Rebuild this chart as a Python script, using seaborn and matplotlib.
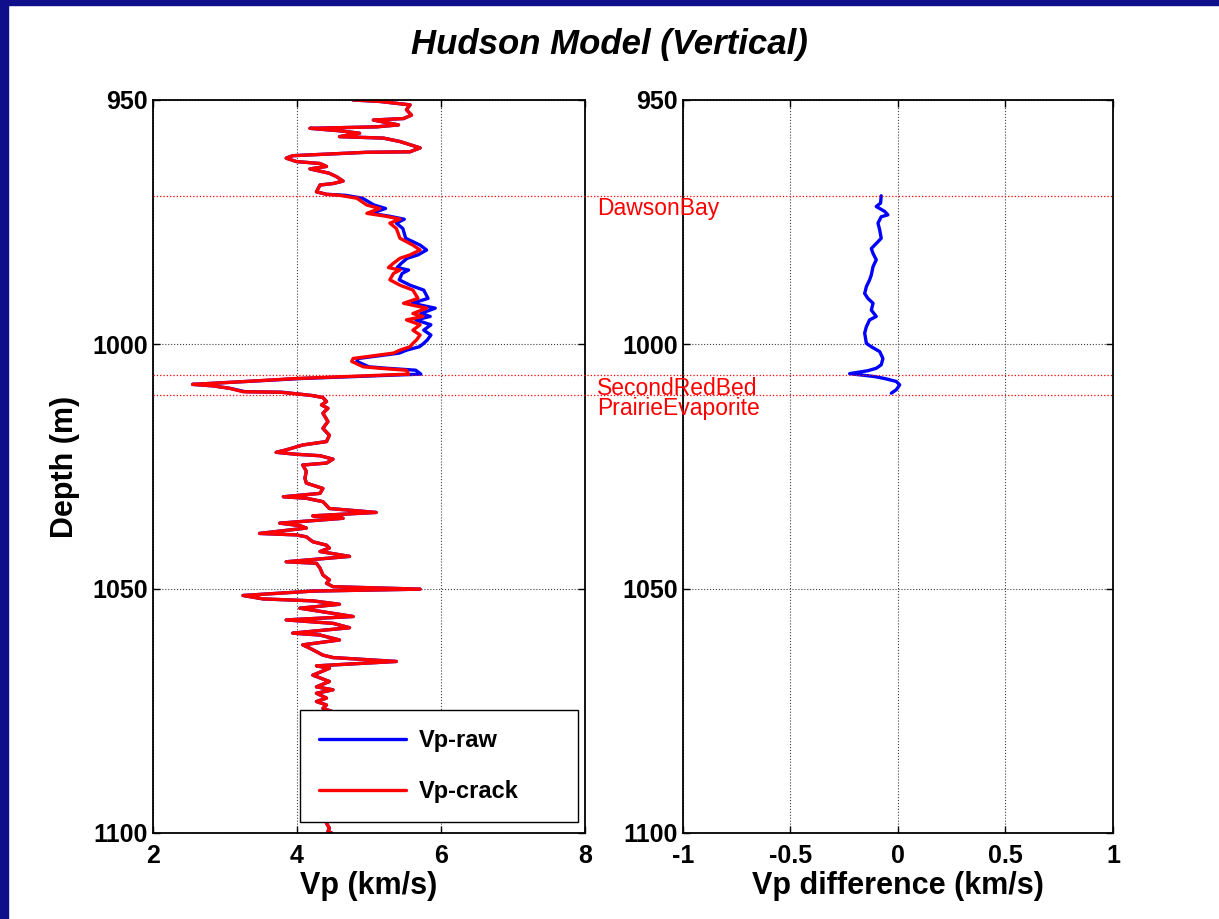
import matplotlib
matplotlib.use('Agg')
import matplotlib.pyplot as plt
from matplotlib import transforms
from matplotlib.lines import Line2D
from matplotlib.patches import Rectangle
import pandas as pd
import seaborn as sns

# Vp-crack log (km/s) against depth (m)
depth = [950.0, 950.3, 951.0, 952.0, 953.1, 953.8, 954.1, 955.1, 955.5, 955.8,
         956.3, 956.8, 957.5, 957.8, 958.5, 959.8, 960.6, 960.7, 961.4, 961.9,
         962.6, 963.0, 963.6, 964.1, 965.0, 965.7, 966.6, 967.1, 967.4, 968.8,
         969.3, 969.5, 970.1, 971.5, 972.2, 973.2, 973.8, 974.4, 975.2, 976.3,
         978.3, 979.7, 980.7, 981.7, 982.4, 983.4, 984.3, 984.8, 985.5, 986.8,
         987.9, 988.9, 990.6, 991.6, 992.6, 993.7, 994.3, 995.0, 996.0, 997.1,
         998.1, 999.1, 999.8, 1000.5, 1001.2, 1001.8, 1002.9, 1003.5, 1004.6, 1004.9,
         1005.3, 1006.1, 1006.6, 1007.0, 1007.6, 1008.2, 1008.5, 1009.0, 1009.7, 1009.8,
         1010.2, 1010.5, 1010.9, 1011.7, 1012.4, 1013.1, 1014.1, 1015.8, 1017.2, 1018.6,
         1019.9, 1020.6, 1021.6, 1022.1, 1022.5, 1022.8, 1023.5, 1024.3, 1024.7, 1026.0,
         1027.4, 1028.4, 1029.5, 1030.5, 1031.2, 1031.5, 1032.2, 1033.6, 1034.4, 1035.1,
         1035.3, 1035.6, 1036.6, 1037.1, 1037.6, 1038.7, 1039.0, 1039.4, 1040.4, 1041.1,
         1041.7, 1042.4, 1043.4, 1044.5, 1044.8, 1045.8, 1047.2, 1048.2, 1048.9, 1049.6,
         1050.1, 1050.5, 1051.4, 1052.1, 1052.5, 1053.2, 1054.0, 1055.7, 1056.4, 1057.1,
         1058.0, 1059.1, 1059.5, 1060.5, 1061.5, 1062.2, 1063.6, 1064.1, 1064.9, 1065.8,
         1066.3, 1067.7, 1069.0, 1070.1, 1070.7, 1071.4, 1072.4, 1073.1, 1073.8, 1074.5,
         1075.2, 1077.0, 1079.0, 1081.0, 1083.0, 1085.0, 1087.0, 1089.0, 1091.0, 1093.0,
         1095.0, 1097.0, 1098.0, 1099.0, 1099.7, 1100.0]
vp_crack = [4.78, 5.15, 5.57, 5.52, 5.59, 5.48, 5.06, 5.41, 5.10, 4.18,
            4.59, 4.87, 4.59, 5.20, 5.43, 5.71, 5.57, 4.97, 3.94, 3.85,
            3.99, 4.32, 4.41, 4.18, 4.45, 4.55, 4.64, 4.50, 4.32, 4.27,
            4.41, 4.59, 4.83, 4.97, 5.15, 4.97, 5.24, 5.43, 5.29, 5.38,
            5.43, 5.61, 5.71, 5.57, 5.43, 5.34, 5.27, 5.43, 5.34, 5.29,
            5.43, 5.61, 5.68, 5.48, 5.80, 5.61, 5.75, 5.52, 5.71, 5.61,
            5.71, 5.66, 5.61, 5.57, 5.43, 5.34, 4.78, 4.76, 4.92, 5.15,
            5.52, 5.55, 4.69, 3.99, 3.29, 2.55, 2.83, 3.06, 3.25, 3.76,
            4.04, 4.22, 4.36, 4.41, 4.34, 4.43, 4.36, 4.43, 4.36, 4.45,
            4.41, 4.08, 3.85, 3.71, 3.99, 4.32, 4.50, 4.41, 4.08, 4.13,
            4.11, 4.13, 4.36, 4.32, 3.81, 4.13, 4.36, 4.45, 5.10, 4.22,
            4.55, 4.64, 3.76, 4.04, 4.13, 3.48, 3.99, 4.13, 4.22, 4.41,
            4.45, 4.32, 4.73, 3.85, 4.27, 4.32, 4.36, 4.45, 4.41, 4.50,
            5.71, 4.22, 3.25, 3.53, 4.22, 4.59, 4.04, 4.78, 3.85, 4.50,
            4.73, 3.94, 4.32, 4.59, 4.08, 4.18, 4.36, 4.50, 5.38, 4.27,
            4.45, 4.22, 4.45, 4.27, 4.50, 4.27, 4.41, 4.27, 4.41, 4.36,
            4.50, 4.40, 4.48, 4.35, 4.46, 4.38, 4.42, 4.50, 4.36, 4.44,
            4.40, 4.43, 4.41, 4.45, 4.43, 4.48]

# Vp-raw where it departs from Vp-crack (DawsonBay to PrairieEvaporite)
raw_depth = [969.5, 970.1, 971.5, 972.2, 973.2, 973.8, 974.4, 975.2, 976.3, 978.3,
             979.7, 980.7, 981.7, 982.4, 983.4, 984.3, 984.8, 985.5, 986.8, 987.9,
             988.9, 990.6, 991.6, 992.6, 993.7, 994.3, 995.0, 996.0, 997.1, 998.1,
             999.1, 999.8, 1000.5, 1001.2, 1001.8, 1002.9, 1003.5, 1004.6, 1004.9, 1005.3,
             1006.1, 1006.6, 1007.0, 1007.6, 1008.2, 1008.5, 1009.0, 1009.7, 1009.8]
vp_raw = [4.67, 4.91, 5.07, 5.23, 5.03, 5.29, 5.49, 5.38, 5.47, 5.51,
          5.71, 5.80, 5.68, 5.53, 5.45, 5.39, 5.55, 5.46, 5.42, 5.57,
          5.76, 5.82, 5.60, 5.92, 5.72, 5.85, 5.65, 5.86, 5.76, 5.86,
          5.81, 5.76, 5.70, 5.52, 5.42, 4.85, 4.83, 5.00, 5.25, 5.65,
          5.72, 4.80, 4.05, 3.29, 2.55, 2.83, 3.07, 3.28, 3.79]

# Vp difference (km/s)
diff_depth = [969.6, 971.1, 971.8, 972.8, 973.5, 973.9, 975.2, 976.6, 978.3, 979.0,
              980.4, 981.4, 982.7, 984.1, 985.8, 986.8, 988.2, 989.6, 990.6, 991.6,
              993.0, 994.3, 995.0, 996.4, 997.7, 999.8, 1000.5, 1001.5, 1002.9, 1004.2,
              1004.9, 1005.4, 1006.0, 1006.6, 1007.0, 1007.6, 1008.3, 1009.3, 1010.0]
vp_diff = [-0.078, -0.081, -0.101, -0.062, -0.047, -0.078, -0.093, -0.085, -0.078, -0.093,
           -0.124, -0.116, -0.101, -0.116, -0.124, -0.132, -0.147, -0.155, -0.140, -0.116,
           -0.124, -0.101, -0.132, -0.147, -0.155, -0.147, -0.124, -0.085, -0.070, -0.078,
           -0.101, -0.140, -0.225, -0.109, -0.062, -0.008, 0.008, -0.008, -0.031]

tops = ['DawsonBay', 'SecondRedBed', 'PrairieEvaporite']
top_depth = [969.6, 1006.3, 1010.4]

depth_ticks = [950, 1000, 1050, 1100]
vp_ticks = [2, 4, 6, 8]
diff_ticks = [-1, -0.5, 0, 0.5, 1]
diff_tick_labels = ['-1', '-0.5', '0', '0.5', '1']

crack = pd.DataFrame({'Depth': depth, 'Vp': vp_crack})
zone = pd.DataFrame({'Depth': raw_depth, 'Vp': vp_raw})
raw = pd.concat([crack[crack.Depth < raw_depth[0]], zone,
                 crack[crack.Depth > raw_depth[-1]]], ignore_index=True)
diff = pd.DataFrame({'Depth': diff_depth, 'dVp': vp_diff})

sns.set_style('ticks')
plt.rcParams['font.family'] = ['Liberation Sans', 'DejaVu Sans']
plt.rcParams['font.weight'] = 'bold'
plt.rcParams['text.color'] = 'black'
plt.rcParams['axes.labelcolor'] = 'black'

fig = plt.figure(figsize=(12.19, 9.19), dpi=100)
ax1 = fig.add_axes([0.1255, 0.0936, 0.3544, 0.7976])
ax2 = fig.add_axes([0.5603, 0.0936, 0.3527, 0.7976])

sns.lineplot(data=raw, x='Vp', y='Depth', orient='y', sort=False, estimator=None,
             color='blue', lw=2.4, label='Vp-raw', ax=ax1)
sns.lineplot(data=crack, x='Vp', y='Depth', orient='y', sort=False, estimator=None,
             color='red', lw=2.4, label='Vp-crack', ax=ax1)
sns.lineplot(data=diff, x='dVp', y='Depth', orient='y', sort=False, estimator=None,
             color='blue', lw=2.4, ax=ax2, legend=False)

for ax in (ax1, ax2):
    ax.set_ylim(1100, 950)
    ax.set_yticks(depth_ticks)
    ax.grid(True, ls=':', color='0.25', lw=0.8)
    ax.tick_params(direction='in', top=True, right=True, length=5, width=1,
                   labelsize=18, colors='black')
    ax.tick_params(axis='x', pad=8)
    for s in ax.spines.values():
        s.set_linewidth(1.3)
        s.set_color('black')
    ax.set_ylabel('')

ax1.set_xlim(2, 8)
ax1.set_xticks(vp_ticks)
ax2.set_xlim(-1, 1)
ax2.set_xticks(diff_ticks)
ax2.set_xticklabels(diff_tick_labels)
for ax in (ax1, ax2):
    for lab in ax.get_xticklabels() + ax.get_yticklabels():
        lab.set_fontweight('bold')

ax1.set_xlabel('Vp (km/s)', fontsize=22, fontweight='bold', labelpad=2)
ax2.set_xlabel('Vp difference (km/s)', fontsize=22, fontweight='bold', labelpad=2)
ax1.set_ylabel('Depth (m)', fontsize=22, fontweight='bold')
ax1.yaxis.set_label_coords(-0.17, 0.5)

leg = ax1.legend(loc='lower left', bbox_to_anchor=(0.34, 0.015, 0.644, 0.146),
                 mode='expand', borderaxespad=0, fontsize=17, handlelength=3.7,
                 handletextpad=0.55, labelspacing=1.2, borderpad=0.8,
                 fancybox=False, framealpha=1, edgecolor='black')
leg.get_frame().set_linewidth(1.0)
for t in leg.get_texts():
    t.set_fontweight('bold')
    t.set_color('black')

# formation tops run across both panels
trans = transforms.blended_transform_factory(fig.transFigure, ax1.transData)
for name, d in zip(tops, top_depth):
    fig.add_artist(Line2D([0.1255, 0.9131], [d, d], transform=trans,
                          color='red', ls=':', lw=0.9))
    fig.text(597 / 1219, d + 0.3, name, transform=trans, ha='left', va='top',
             color='red', fontsize=16.5, fontweight='normal', zorder=5)

fig.suptitle('Hudson Model (Vertical)', x=0.5, y=0.952, va='center',
             fontsize=25, fontweight='bold', fontstyle='italic', color='black')

# navy slide frame
navy = '#0f0f8c'
fig.add_artist(Rectangle((0, 0), 8 / 1219, 1, transform=fig.transFigure,
                         color=navy, zorder=10))
fig.add_artist(Rectangle((0, 1 - 5 / 919), 1, 5 / 919, transform=fig.transFigure,
                         color=navy, zorder=10))

fig.savefig('out.png', dpi=100)
